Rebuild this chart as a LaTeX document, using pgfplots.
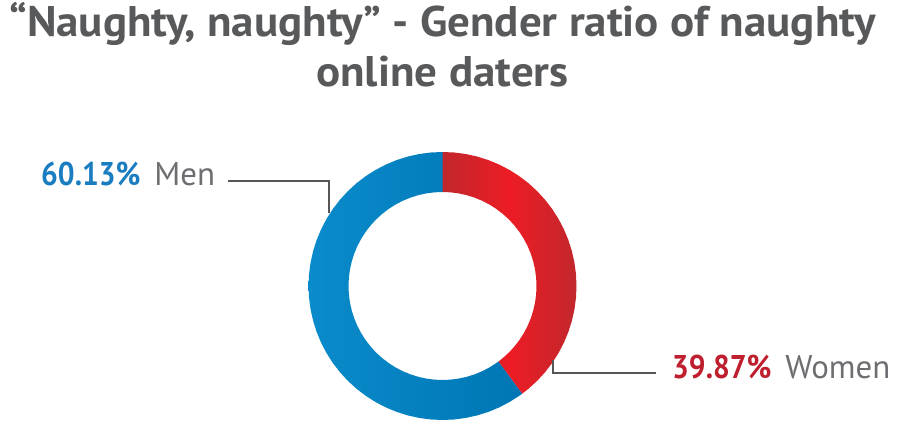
\documentclass[border=0pt]{standalone}
\usepackage{pgfplots}
\pgfplotsset{compat=1.18}
\usepackage{fontspec}
\setmainfont{PT Sans}
\definecolor{titlegray}{HTML}{58595B}
\definecolor{labgray}{HTML}{6D6E71}
\definecolor{linegray}{HTML}{555555}
\definecolor{menblue}{HTML}{1A7DC0}
\definecolor{womred}{HTML}{BE1E2D}
\definecolor{blueL}{HTML}{0A8BCB}
\definecolor{blueR}{HTML}{0076B4}
\definecolor{redD}{HTML}{C1272D}
\definecolor{redB}{HTML}{ED1C24}
\begin{document}
\begin{tikzpicture}[x=1bp,y=1bp]
\useasboundingbox (0,0) rectangle (900,440);
\begin{axis}[at={(0,0)}, anchor=south west, scale only axis,
  width=900bp, height=440bp,
  xmin=-442.5, xmax=457.5, ymin=-154, ymax=286,
  hide axis, clip=false]
% Women 39.87%
\addplot[data cs=polar, draw=none, left color=redD, right color=redD, middle color=redB] coordinates {
(90,134) (85,134) (80,134) (75,134) (70,134) (65,134) (60,134) (55,134) (50,134) (45,134)
(40,134) (35,134) (30,134) (25,134) (20,134) (15,134) (10,134) (5,134) (0,134) (-5,134)
(-10,134) (-15,134) (-20,134) (-25,134) (-30,134) (-35,134) (-40,134) (-45,134) (-50,134) (-53.53,134)
(-53.53,94) (-50,94) (-45,94) (-40,94) (-35,94) (-30,94) (-25,94) (-20,94) (-15,94) (-10,94)
(-5,94) (0,94) (5,94) (10,94) (15,94) (20,94) (25,94) (30,94) (35,94) (40,94)
(45,94) (50,94) (55,94) (60,94) (65,94) (70,94) (75,94) (80,94) (85,94) (90,94) (90,134)
};
% Men 60.13%
\addplot[data cs=polar, draw=none, left color=blueL, right color=blueR] coordinates {
(-53.53,134) (-55,134) (-60,134) (-65,134) (-70,134) (-75,134) (-80,134) (-85,134) (-90,134)
(-95,134) (-100,134) (-105,134) (-110,134) (-115,134) (-120,134) (-125,134) (-130,134) (-135,134)
(-140,134) (-145,134) (-150,134) (-155,134) (-160,134) (-165,134) (-170,134) (-175,134) (-180,134)
(-185,134) (-190,134) (-195,134) (-200,134) (-205,134) (-210,134) (-215,134) (-220,134) (-225,134)
(-230,134) (-235,134) (-240,134) (-245,134) (-250,134) (-255,134) (-260,134) (-265,134) (-270,134)
(-270,94) (-265,94) (-260,94) (-255,94) (-250,94) (-245,94) (-240,94) (-235,94) (-230,94)
(-225,94) (-220,94) (-215,94) (-210,94) (-205,94) (-200,94) (-195,94) (-190,94) (-185,94)
(-180,94) (-175,94) (-170,94) (-165,94) (-160,94) (-155,94) (-150,94) (-145,94) (-140,94)
(-135,94) (-130,94) (-125,94) (-120,94) (-115,94) (-110,94) (-105,94) (-100,94) (-95,94)
(-90,94) (-85,94) (-80,94) (-75,94) (-70,94) (-65,94) (-60,94) (-55,94) (-53.53,94) (-53.53,134)
};
% leader lines
\addplot[linegray, line width=1.1bp] coordinates {(-214.5,105) (-113.5,105) (-113.5,73)};
\addplot[linegray, line width=1.1bp] coordinates {(110.5,-74) (110.5,-87) (213.5,-87)};
% labels
\node[anchor=base west, inner sep=0pt] at (axis cs:-401.5,100)
  {\fontsize{33}{36}\selectfont\textcolor{menblue}{\scalebox{0.9}[1]{\bfseries 60.13\%}}\hspace{14bp}\textcolor{labgray}{Men}};
\node[anchor=base west, inner sep=0pt] at (axis cs:229.5,-93)
  {\fontsize{33}{36}\selectfont\textcolor{womred}{\scalebox{0.9}[1]{\bfseries 39.87\%}}\hspace{14bp}\textcolor{labgray}{Women}};
% title
\node[anchor=base, inner sep=0pt, text=titlegray] at (axis cs:0,249)
  {\scalebox{1.05}[1]{\fontsize{43}{50}\selectfont\bfseries “Naughty, naughty” - Gender ratio of naughty}};
\node[anchor=base, inner sep=0pt, text=titlegray] at (axis cs:0,199)
  {\scalebox{1.05}[1]{\fontsize{43}{50}\selectfont\bfseries online daters}};
\end{axis}
\end{tikzpicture}
\end{document}
